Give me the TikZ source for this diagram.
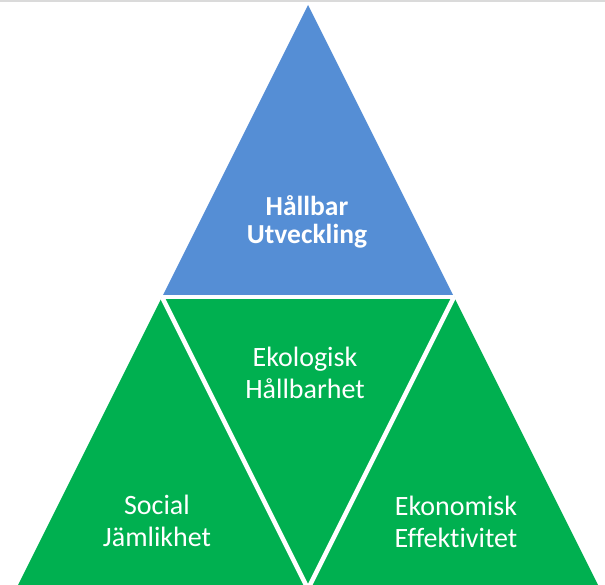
\documentclass[tikz,border=0pt]{standalone}
\usepackage{fontspec}
\setmainfont{Carlito}[Ligatures={NoCommon}]
\usetikzlibrary{calc}
\definecolor{pyrblue}{RGB}{85,142,213}
\definecolor{pyrgreen}{RGB}{0,176,80}
\definecolor{topgray}{RGB}{218,218,218}
\begin{document}
\begin{tikzpicture}[x=1pt,y=-1pt,
  gap/.style={draw=white,line width=4.5pt},
  lbl/.style={text=white,align=center,font=\fontsize{28}{31.5}\selectfont},
  lblbold/.style={lbl,font=\fontsize{27.5}{28}\selectfont\bfseries}]
\useasboundingbox (0,0) rectangle (605,585);
\fill[topgray] (0,0) rectangle (605,2);
\coordinate (A) at (308,5);
\coordinate (B) at (16,589);
\coordinate (C) at (600,589);
\coordinate (MAB) at ($(A)!0.5!(B)$);
\coordinate (MAC) at ($(A)!0.5!(C)$);
\coordinate (MBC) at ($(B)!0.5!(C)$);
\fill[pyrblue] (A) -- (MAB) -- (MAC) -- cycle;
\fill[pyrgreen] (MAB) -- (B) -- (C) -- (MAC) -- cycle;
\draw[gap] (MAB) -- (MAC);
\draw[gap] (MAB) -- (MBC) -- (MAC);
\node[lblbold] (hu) at (307,222) {Hållbar\\Utveckling};
\node[lbl] (eh) at (305,373) {Ekologisk\\Hållbarhet};
\node[lbl] (sj) at (157,521) {Social\\Jämlikhet};
\node[lbl] (ee) at (456,522) {Ekonomisk\\Effektivitet};
\end{tikzpicture}
\end{document}
